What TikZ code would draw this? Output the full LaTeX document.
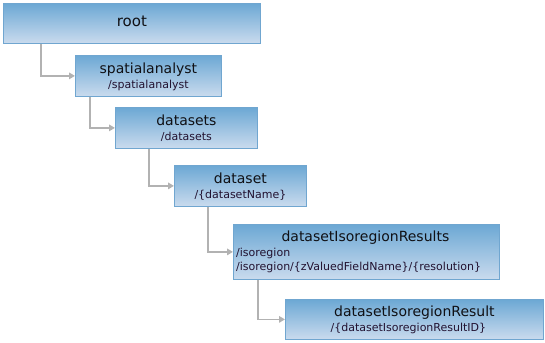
\documentclass[tikz,border=0pt]{standalone}
\usepackage{fontspec}
\setmainfont{DejaVu Sans}
\usepackage{tikz}
\usetikzlibrary{arrows.meta, calc}
\usepackage{xcolor}
\definecolor{boxtop}{RGB}{108,168,212}
\definecolor{boxbot}{RGB}{202,219,238}
\definecolor{boxline}{RGB}{112,166,208}
\definecolor{linkgray}{RGB}{178,178,178}
\definecolor{ttlcol}{RGB}{16,16,20}
\definecolor{subcol}{RGB}{34,18,48}

\begin{document}
\begin{tikzpicture}[x=1pt, y=-1pt,
  box/.style={draw=boxline, line width=0.8pt, top color=boxtop, bottom color=boxbot,
    inner sep=0pt, anchor=north west},
  ttl/.style={font=\fontsize{14}{16}\selectfont, text=ttlcol, inner sep=0pt, anchor=mid},
  sub/.style={font=\fontsize{11}{13}\selectfont, text=subcol, inner sep=0pt, anchor=mid},
  link/.style={draw=linkgray, line width=1.6pt, -{Triangle[length=6pt,width=6.5pt]}}]
  \useasboundingbox (0,0) rectangle (545,342);
  % boxes
  \node[box, minimum width=257pt, minimum height=40pt] (root) at (3,3) {};
  \node[box, minimum width=146pt, minimum height=41pt] (sa) at (75,55) {};
  \node[box, minimum width=142pt, minimum height=41pt] (dss) at (115,107) {};
  \node[box, minimum width=132pt, minimum height=41pt] (ds) at (174,165) {};
  \node[box, minimum width=266pt, minimum height=55pt] (isr) at (233,224) {};
  \node[box, minimum width=258pt, minimum height=40pt] (res) at (285,299) {};
  % texts
  \node[ttl, font=\fontsize{15}{17}\selectfont] at (root.center) {root};
  \node[ttl] at ($(sa.north)+(0,15.5)$) {spatialanalyst};
  \node[sub] at ($(sa.north)+(0,31)$) {/spatialanalyst};
  \node[ttl] at ($(dss.north)+(0,15.5)$) {datasets};
  \node[sub] at ($(dss.north)+(0,31)$) {/datasets};
  \node[ttl] at ($(ds.north)+(0,15.5)$) {dataset};
  \node[sub] at ($(ds.north)+(0,30.5)$) {/\{datasetName\}};
  \node[ttl] at ($(isr.north)+(-1,15)$) {datasetIsoregionResults};
  \node[sub, anchor=mid west] at ($(isr.north west)+(3,30)$) {/isoregion};
  \node[sub, anchor=mid west] at ($(isr.north west)+(3,43.5)$) {/isoregion/\{zValuedFieldName\}/\{resolution\}};
  \node[ttl] at ($(res.north)+(0,15)$) {datasetIsoregionResult};
  \node[sub] at ($(res.north)+(-6,30)$) {/\{datasetIsoregionResultID\}};
  % connectors
  \draw[link] ([xshift=38pt]root.south west) |- (sa.west);
  \draw[link] ([xshift=15pt]sa.south west) |- (dss.west);
  \draw[link] ([xshift=34pt]dss.south west) |- (ds.west);
  \draw[link] ([xshift=34pt]ds.south west) |- (isr.west);
  \draw[link] ([xshift=25pt]isr.south west) |- (res.west);
\end{tikzpicture}
\end{document}
